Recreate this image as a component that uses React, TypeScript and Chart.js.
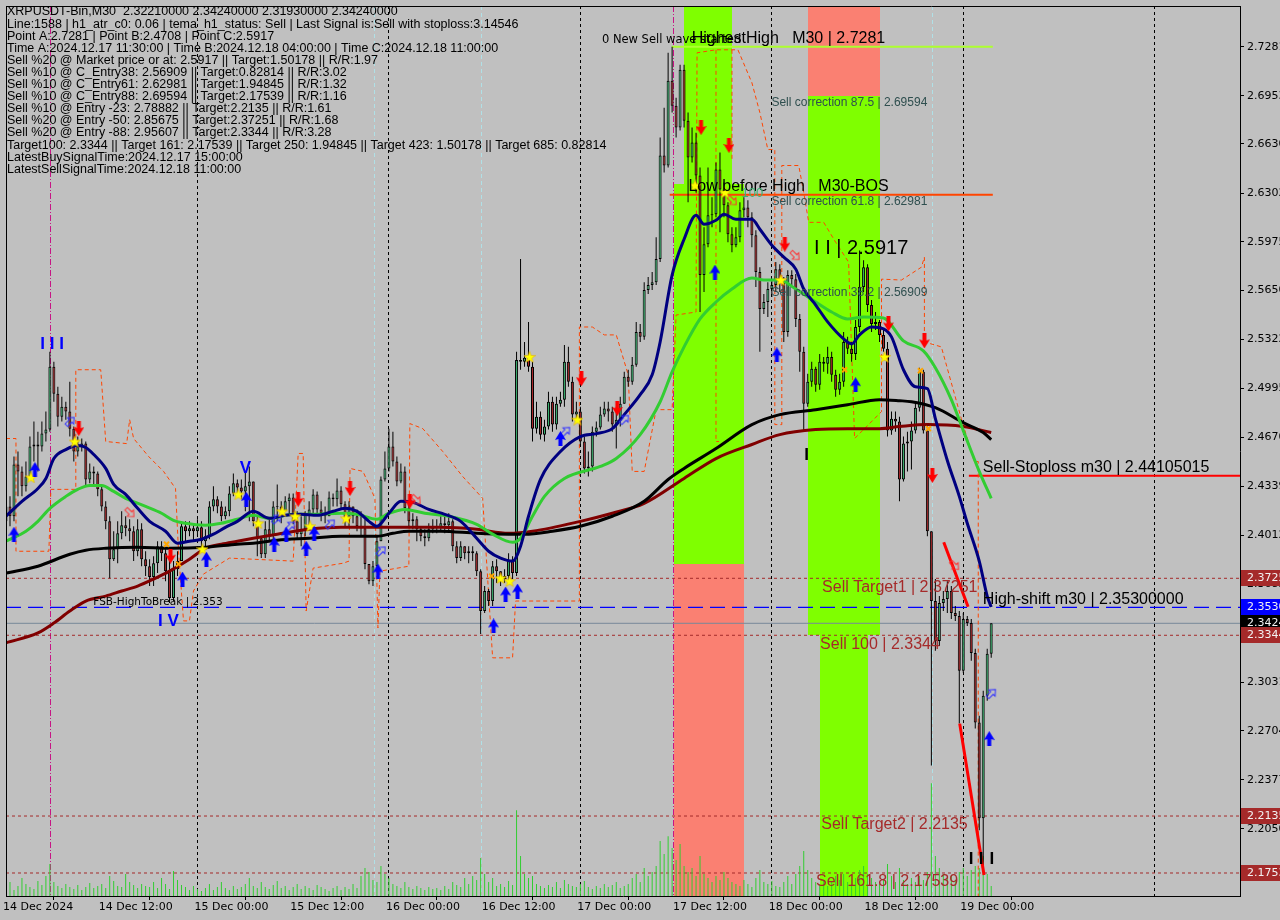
import React, { useEffect, useRef } from 'react';
import { Chart, registerables } from 'chart.js';

Chart.register(...registerables);

const ARIAL = "'Liberation Sans', Arial, sans-serif";
const DEJAVU = "'DejaVu Sans', sans-serif";

// ---------- axes ----------
const timeTickIdx = [0, 24, 48, 72, 96, 120, 144, 168, 192, 216, 240];
const timeTickLabels = ['14 Dec 2024', '14 Dec 12:00', '15 Dec 00:00', '15 Dec 12:00', '16 Dec 00:00', '16 Dec 12:00', '17 Dec 00:00', '17 Dec 12:00', '18 Dec 00:00', '18 Dec 12:00', '19 Dec 00:00'];
const priceTicks = [2.7281, 2.6953, 2.6630, 2.6302, 2.5975, 2.5650, 2.5322, 2.4995, 2.4670, 2.4339, 2.4012, 2.3685, 2.3358, 2.3031, 2.2704, 2.2377, 2.2050, 2.1723];
const priceMin = 2.1600;
const priceMax = 2.7553;
const slotMax = 309.375;

// ---------- candles (M30) ----------
const firstOpen = 2.4106;
const close = [
  2.4206, 2.4140, 2.4486, 2.4440, 2.4340, 2.4406, 2.4606, 2.4620, 2.4606, 2.4693, 2.4720, 2.5140,
  2.4960, 2.4806, 2.4873, 2.4840, 2.4726, 2.4573, 2.4606, 2.4626, 2.4386, 2.4440, 2.4426, 2.4320,
  2.4206, 2.4106, 2.3853, 2.3920, 2.4026, 2.4080, 2.4060, 2.4040, 2.3906, 2.4053, 2.3853, 2.3806,
  2.3733, 2.3826, 2.3940, 2.3893, 2.3773, 2.3593, 2.3786, 2.3840, 2.4073, 2.4040, 2.4060, 2.4040,
  2.4066, 2.3973, 2.4006, 2.4206, 2.4253, 2.4206, 2.4140, 2.4173, 2.4293, 2.4360, 2.4333, 2.4306,
  2.4340, 2.4373, 2.4106, 2.3993, 2.3886, 2.4053, 2.4006, 2.4206, 2.4206, 2.4173, 2.4240, 2.4266,
  2.4106, 2.4020, 2.4053, 2.4153, 2.4186, 2.4286, 2.4186, 2.4160, 2.4140, 2.4266, 2.4253, 2.4313,
  2.4220, 2.4120, 2.4206, 2.4140, 2.4073, 2.4060, 2.3820, 2.3706, 2.3806, 2.3973, 2.4386, 2.4460,
  2.4606, 2.4506, 2.4373, 2.4440, 2.4193, 2.4106, 2.4120, 2.4053, 2.4006, 2.3993, 2.4053, 2.4073,
  2.4066, 2.4093, 2.4080, 2.4106, 2.3940, 2.3860, 2.3940, 2.3893, 2.3906, 2.3893, 2.3773, 2.3506,
  2.3640, 2.3573, 2.3806, 2.3773, 2.3720, 2.3740, 2.3840, 2.3760, 2.5186, 2.5173, 2.5200, 2.5140,
  2.4726, 2.4806, 2.4686, 2.4740, 2.4906, 2.4753, 2.4893, 2.4920, 2.5173, 2.5040, 2.4820, 2.4840,
  2.4640, 2.4460, 2.4473, 2.4706, 2.4733, 2.4820, 2.4860, 2.4840, 2.4753, 2.4786, 2.4893, 2.5073,
  2.5040, 2.5153, 2.5373, 2.5340, 2.5653, 2.5686, 2.5706, 2.5860, 2.6553, 2.6486, 2.7053, 2.6886,
  2.6740, 2.7126, 2.6786, 2.6540, 2.6640, 2.6420, 2.5753, 2.5960, 2.6153, 2.6160, 2.6460, 2.6326,
  2.6220, 2.6026, 2.5953, 2.6006, 2.6186, 2.6206, 2.6140, 2.6020, 2.5773, 2.5526, 2.5573, 2.5660,
  2.5686, 2.5793, 2.5706, 2.5373, 2.5753, 2.5726, 2.5460, 2.5240, 2.4893, 2.5040, 2.5126, 2.5020,
  2.5173, 2.5160, 2.5206, 2.5086, 2.4986, 2.5040, 2.5306, 2.5260, 2.5226, 2.5406, 2.5673, 2.5806,
  2.5553, 2.5426, 2.5440, 2.5353, 2.5260, 2.4713, 2.4793, 2.4773, 2.4386, 2.4626, 2.4640, 2.4713,
  2.4866, 2.5106, 2.4713, 2.4040, 2.3573, 2.3306, 2.3560, 2.3586, 2.3640, 2.3493, 2.3473, 2.3106,
  2.3453, 2.3426, 2.3226, 2.2760, 2.2120, 2.2940, 2.3220, 2.3424,
];
const high = [
  2.4306, 2.4273, 2.4540, 2.4573, 2.4473, 2.4506, 2.4673, 2.4773, 2.4706, 2.4773, 2.4840, 2.5240,
  2.5173, 2.5006, 2.4940, 2.4906, 2.5040, 2.4740, 2.4673, 2.4660, 2.4640, 2.4493, 2.4473, 2.4440,
  2.4340, 2.4240, 2.4140, 2.4040, 2.4106, 2.4173, 2.4140, 2.4120, 2.4073, 2.4120, 2.4093, 2.3906,
  2.3853, 2.3873, 2.3973, 2.3973, 2.3920, 2.3840, 2.3840, 2.3906, 2.4106, 2.4106, 2.4106, 2.4093,
  2.4120, 2.4106, 2.4053, 2.4240, 2.4340, 2.4273, 2.4240, 2.4206, 2.4340, 2.4426, 2.4386, 2.4386,
  2.4440, 2.4473, 2.4240, 2.4140, 2.4006, 2.4106, 2.4120, 2.4240, 2.4353, 2.4240, 2.4273, 2.4293,
  2.4293, 2.4173, 2.4140, 2.4173, 2.4240, 2.4320, 2.4306, 2.4240, 2.4206, 2.4306, 2.4293, 2.4393,
  2.4340, 2.4240, 2.4240, 2.4206, 2.4186, 2.4173, 2.4120, 2.3806, 2.3840, 2.4006, 2.4406, 2.4573,
  2.4726, 2.4706, 2.4540, 2.4493, 2.4473, 2.4240, 2.4160, 2.4140, 2.4073, 2.4053, 2.4093, 2.4120,
  2.4120, 2.4140, 2.4140, 2.4160, 2.4120, 2.3973, 2.3973, 2.3940, 2.3940, 2.3940, 2.3906, 2.3786,
  2.3673, 2.3653, 2.3840, 2.3853, 2.3773, 2.3786, 2.3893, 2.3873, 2.5240, 2.5860, 2.5306, 2.5440,
  2.5173, 2.4906, 2.4840, 2.4786, 2.4973, 2.4940, 2.4940, 2.4973, 2.5286, 2.5273, 2.5073, 2.4906,
  2.4873, 2.4673, 2.4573, 2.4740, 2.4773, 2.4873, 2.4906, 2.4906, 2.4873, 2.4873, 2.4940, 2.5106,
  2.5120, 2.5206, 2.5440, 2.5426, 2.5706, 2.5740, 2.5773, 2.6006, 2.6673, 2.6873, 2.7240, 2.7281,
  2.6940, 2.7160, 2.7160, 2.6840, 2.6740, 2.6706, 2.6473, 2.6073, 2.6473, 2.6273, 2.6506, 2.6573,
  2.6373, 2.6240, 2.6073, 2.6073, 2.6240, 2.6273, 2.6253, 2.6173, 2.6053, 2.5806, 2.5626, 2.5706,
  2.5720, 2.5840, 2.5826, 2.5740, 2.5786, 2.5786, 2.5760, 2.5493, 2.5273, 2.5093, 2.5173, 2.5140,
  2.5226, 2.5206, 2.5273, 2.5240, 2.5120, 2.5093, 2.5373, 2.5340, 2.5306, 2.5453, 2.5917, 2.5853,
  2.5826, 2.5586, 2.5506, 2.5453, 2.5386, 2.5306, 2.4840, 2.4840, 2.4806, 2.4673, 2.4706, 2.4773,
  2.4906, 2.5133, 2.5120, 2.4740, 2.3973, 2.3720, 2.3606, 2.3640, 2.3706, 2.3673, 2.3540, 2.3506,
  2.3493, 2.3473, 2.3453, 2.3253, 2.2806, 2.2973, 2.3253, 2.3424,
];
const low = [
  2.3973, 2.4073, 2.4106, 2.4273, 2.4273, 2.4306, 2.4406, 2.4506, 2.4440, 2.4573, 2.4640, 2.4706,
  2.4906, 2.4740, 2.4773, 2.4786, 2.4673, 2.4506, 2.4540, 2.4573, 2.4340, 2.4360, 2.4340, 2.4273,
  2.4173, 2.4053, 2.3726, 2.3840, 2.3826, 2.3986, 2.4006, 2.3973, 2.3840, 2.3873, 2.3806, 2.3740,
  2.3673, 2.3673, 2.3760, 2.3840, 2.3706, 2.3560, 2.3573, 2.3740, 2.3840, 2.3973, 2.4006, 2.3973,
  2.4006, 2.3920, 2.3920, 2.3986, 2.4173, 2.4160, 2.4106, 2.4120, 2.4140, 2.4273, 2.4293, 2.4253,
  2.4173, 2.4106, 2.4073, 2.3873, 2.3860, 2.3860, 2.3973, 2.3986, 2.4106, 2.4093, 2.4186, 2.4160,
  2.4086, 2.3993, 2.3940, 2.4006, 2.4073, 2.4160, 2.4160, 2.4106, 2.4093, 2.4173, 2.4206, 2.4206,
  2.4186, 2.4073, 2.4073, 2.4093, 2.4040, 2.4006, 2.3786, 2.3686, 2.3673, 2.3786, 2.3973, 2.4373,
  2.4440, 2.4473, 2.4340, 2.4360, 2.4160, 2.4073, 2.4053, 2.3973, 2.3973, 2.3940, 2.3973, 2.4026,
  2.4026, 2.4040, 2.4026, 2.4040, 2.3906, 2.3826, 2.3840, 2.3853, 2.3826, 2.3840, 2.3740, 2.3353,
  2.3493, 2.3540, 2.3540, 2.3693, 2.3673, 2.3693, 2.3706, 2.3720, 2.3740, 2.5120, 2.5140, 2.5106,
  2.4640, 2.4693, 2.4653, 2.4640, 2.4720, 2.4706, 2.4720, 2.4873, 2.4873, 2.5006, 2.4773, 2.4786,
  2.4606, 2.4426, 2.4406, 2.4440, 2.4673, 2.4720, 2.4806, 2.4773, 2.4706, 2.4593, 2.4740, 2.4893,
  2.5006, 2.5020, 2.5140, 2.5306, 2.5320, 2.5626, 2.5653, 2.5686, 2.5840, 2.6440, 2.6473, 2.6840,
  2.6673, 2.6720, 2.6740, 2.6240, 2.6506, 2.6306, 2.5506, 2.5640, 2.5940, 2.6073, 2.6140, 2.6040,
  2.6140, 2.5973, 2.5906, 2.5940, 2.5973, 2.6140, 2.6073, 2.5940, 2.5673, 2.5240, 2.5493, 2.5473,
  2.5606, 2.5640, 2.5640, 2.5306, 2.5340, 2.5686, 2.5406, 2.5106, 2.4708, 2.4873, 2.5006, 2.4973,
  2.4986, 2.5106, 2.5093, 2.5040, 2.4940, 2.4953, 2.5006, 2.5226, 2.5173, 2.5186, 2.5373, 2.5640,
  2.5506, 2.5373, 2.5386, 2.5306, 2.5240, 2.4673, 2.4686, 2.4706, 2.4240, 2.4373, 2.4440, 2.4453,
  2.4693, 2.4840, 2.4693, 2.4006, 2.2473, 2.3240, 2.3273, 2.3506, 2.3493, 2.3453, 2.3440, 2.2753,
  2.3093, 2.3406, 2.3173, 2.2720, 2.2040, 2.1793, 2.2906, 2.3193,
];
const volume = [
  8, 14, 6, 10, 18, 12, 9, 7, 15, 11, 20, 32,
  14, 10, 8, 12, 9, 7, 11, 6, 9, 13, 8, 10,
  12, 8, 20, 15, 10, 9, 22, 14, 11, 8, 12, 10,
  9, 14, 8, 18, 12, 7, 25, 16, 11, 9, 6, 10,
  7, 5, 8, 12, 6, 9, 14, 8, 6, 10, 7, 9,
  12, 18, 10, 8, 14, 9, 7, 11, 15, 8, 10, 6,
  9, 12, 7, 10, 8, 6, 11, 9, 7, 5, 8, 10,
  6, 9, 7, 12, 8, 20, 28, 24, 16, 14, 30, 22,
  18, 12, 10, 8, 14, 9, 7, 10, 8, 6, 9, 7,
  8, 6, 10, 7, 14, 11, 9, 18, 12, 20, 16, 38,
  22, 14, 18, 10, 12, 9, 15, 11, 86, 40, 22, 18,
  20, 12, 10, 8, 11, 9, 14, 8, 16, 12, 10, 9,
  12, 15, 9, 7, 10, 8, 12, 9, 11, 14, 8, 10,
  12, 18, 22, 14, 28, 20, 24, 30, 55, 42, 60, 48,
  36, 52, 30, 24, 28, 20, 40, 22, 18, 14, 20, 16,
  24, 18, 14, 12, 10, 16, 12, 9, 18, 26, 14, 12,
  15, 10, 9, 14, 20, 12, 22, 30, 45, 26, 18, 14,
  12, 16, 10, 14, 20, 16, 22, 14, 12, 18, 26, 30,
  22, 18, 14, 12, 16, 32, 20, 14, 28, 16, 12, 18,
  14, 20, 16, 24, 113, 40, 28, 22, 18, 20, 16, 24,
  28, 20, 26, 30, 28, 40, 22, 10,
];

// ---------- indicator lines: [bar index, price] ----------
const navyMA = [[0,2.4140],[4,2.4240],[8,2.4326],[10,2.4393],[12,2.4526],[15,2.4586],[18,2.4613],[20,2.4600],[22,2.4553],[25,2.4460],[27,2.4353],[30,2.4286],[33,2.4193],[36,2.4106],[40,2.4040],[43,2.3960],[46,2.3973],[49,2.3986],[52,2.4020],[55,2.4066],[58,2.4106],[62,2.4173],[66,2.4126],[70,2.4146],[74,2.4153],[78,2.4146],[82,2.4173],[85,2.4193],[88,2.4173],[91,2.4106],[93,2.4073],[96,2.4160],[99,2.4240],[102,2.4233],[106,2.4186],[110,2.4153],[114,2.4106],[118,2.3993],[121,2.3906],[124,2.3860],[127,2.3840],[129,2.3940],[131,2.4140],[134,2.4386],[139,2.4573],[144,2.4673],[148,2.4693],[152,2.4726],[155,2.4820],[159,2.4953],[162,2.5086],[164,2.5306],[167,2.5753],[170,2.5993],[173,2.6153],[175,2.6093],[178,2.6120],[180,2.6160],[183,2.6126],[187,2.6126],[189,2.6060],[192,2.5953],[195,2.5873],[198,2.5793],[200,2.5660],[203,2.5553],[206,2.5440],[210,2.5326],[212,2.5293],[214,2.5353],[217,2.5406],[220,2.5393],[222,2.5340],[225,2.5120],[228,2.5006],[231,2.4993],[233,2.4793],[236,2.4513],[239,2.4273],[241,2.4093],[244,2.3840],[246,2.3606],[247,2.3533]];
const greenMA = [[0,2.3973],[5,2.4040],[8,2.4106],[11,2.4193],[15,2.4273],[18,2.4320],[21,2.4346],[24,2.4346],[27,2.4306],[30,2.4260],[35,2.4206],[39,2.4160],[42,2.4113],[45,2.4093],[50,2.4080],[54,2.4093],[58,2.4120],[62,2.4146],[66,2.4126],[72,2.4153],[77,2.4153],[84,2.4160],[88,2.4153],[93,2.4120],[96,2.4160],[100,2.4186],[105,2.4160],[111,2.4140],[118,2.4086],[122,2.4020],[127,2.3966],[129,2.3993],[132,2.4140],[135,2.4273],[140,2.4393],[149,2.4473],[153,2.4526],[159,2.4686],[164,2.4906],[167,2.5106],[170,2.5273],[174,2.5460],[178,2.5573],[182,2.5660],[187,2.5733],[190,2.5720],[194,2.5720],[198,2.5660],[203,2.5573],[207,2.5506],[211,2.5460],[215,2.5473],[220,2.5466],[225,2.5313],[230,2.5246],[233,2.5133],[237,2.4920],[240,2.4713],[244,2.4440],[247,2.4260]];
const blackMA = [[0,2.3760],[8,2.3806],[16,2.3886],[20,2.3913],[25,2.3926],[33,2.3933],[41,2.3926],[50,2.3933],[58,2.3953],[62,2.3960],[68,2.3980],[76,2.3993],[84,2.4006],[93,2.4006],[97,2.4026],[101,2.4040],[109,2.4040],[118,2.4026],[126,2.4020],[130,2.4020],[137,2.4040],[144,2.4073],[152,2.4140],[160,2.4240],[166,2.4386],[170,2.4460],[178,2.4593],[187,2.4753],[194,2.4820],[203,2.4853],[211,2.4886],[219,2.4920],[224,2.4913],[227,2.4906],[233,2.4866],[240,2.4766],[245,2.4700],[247,2.4653]];
const maroonMA = [[0,2.3293],[8,2.3360],[12,2.3426],[16,2.3506],[20,2.3573],[25,2.3606],[29,2.3640],[33,2.3673],[37,2.3720],[41,2.3773],[46,2.3853],[50,2.3926],[54,2.3953],[58,2.3973],[62,2.3993],[68,2.4020],[76,2.4053],[84,2.4066],[101,2.4066],[109,2.4066],[118,2.4053],[126,2.4026],[132,2.4040],[144,2.4106],[152,2.4160],[160,2.4226],[170,2.4393],[178,2.4526],[187,2.4620],[194,2.4686],[203,2.4720],[211,2.4726],[219,2.4726],[224,2.4740],[231,2.4753],[240,2.4740],[247,2.4700]];
const trailStop = [[0,2.4660],[2.5,2.4660],[2.5,2.3906],[10.75,2.3906],[11.25,2.4320],[17.5,2.4320],[17.5,2.5120],[23.75,2.5120],[25,2.4640],[30.25,2.4626],[31,2.4786],[32,2.4660],[35.75,2.4540],[39.5,2.4440],[42.5,2.4326],[43.25,2.3906],[44.5,2.3440],[46,2.3440],[47,2.3640],[49.5,2.3753],[56,2.3860],[72,2.3840],[73.25,2.4560],[74.5,2.4560],[75.25,2.3506],[77,2.3793],[84.5,2.3826],[86,2.3840],[86.25,2.4460],[89.5,2.4440],[92.5,2.4260],[93.25,2.3393],[93.75,2.3773],[101,2.3806],[101.25,2.4760],[104.5,2.4726],[109.5,2.4573],[114.5,2.4406],[119.5,2.4260],[122,2.3193],[127,2.3193],[127.75,2.3573],[143.75,2.3573],[143.75,2.5406],[147,2.5406],[150,2.5353],[153,2.5353],[156,2.5086],[157,2.4440],[160,2.4440],[163,2.4853],[167,2.4853],[168,2.5486],[173,2.5506],[173.25,2.7240],[178,2.7260],[183.5,2.7260],[187,2.7040],[189,2.6840],[191,2.6593],[192.75,2.6593],[192.75,2.4753],[194.5,2.4753],[194.5,2.6486],[198.75,2.6486],[200,2.6306],[201.25,2.6106],[205,2.6106],[208,2.5973],[211.25,2.5840],[212.75,2.4660],[219.5,2.4840],[219.5,2.5726],[224.5,2.5720],[229.5,2.5806],[230.25,2.5873],[230.25,2.5306],[234.5,2.5273],[239.5,2.4793],[242.75,2.4506],[243.75,2.4506],[243.75,2.1540]];
const trailStop2 = [[178,2.7260],[178,2.4640],[178.75,2.4640],[180,null],[182,2.7260],[182,2.6520]];

// ---------- signals: [bar index, price] ----------
const sellArrows = [[18.25,2.4726],[41.25,2.3873],[73.25,2.4253],[86.25,2.4326],[101.25,2.4240],[144.25,2.5060],[153.25,2.4860],[174.25,2.6740],[181.25,2.6620],[195.25,2.5960],[221.25,2.5426],[230.25,2.5313],[232.25,2.4413]];
const buyArrows = [[2,2.4020],[7.25,2.4453],[44.25,2.3720],[50.25,2.3853],[60.25,2.4253],[67.25,2.3953],[70.25,2.4020],[75.25,2.3926],[77.25,2.4026],[93.25,2.3773],[122.25,2.3406],[125.25,2.3620],[128.25,2.3640],[139,2.4660],[177.75,2.5773],[193.25,2.5220],[213,2.5020],[246.5,2.2653]];
const starSignals = [[6.25,2.4400],[17.25,2.4640],[49.25,2.3920],[58.25,2.4286],[63.25,2.4093],[69.25,2.4173],[72.5,2.4140],[76.25,2.4073],[85.25,2.4126],[124,2.3726],[126.25,2.3706],[131.25,2.5206],[143.25,2.4786],[172.75,2.6353],[180.25,2.6306],[194.25,2.5720],[220.25,2.5206]];
const crossSignals = [[210.25,2.5120],[229.25,2.5113],[231.25,2.4726],[121.75,2.3740],[43.25,2.3820],[40.25,2.3953]];
const buyHollow = [[16,2.4773],[67.75,2.4120],[71.25,2.4073],[81.25,2.4086],[94,2.3906],[140.25,2.4706],[155,2.4786],[247,2.2953]];
const sellHollow = [[31,2.4166],[102.75,2.4253],[182,2.6253],[197.75,2.5886],[237.75,2.3813]];

// ---------- zones / levels ----------
const zoneRanges = [
  [170.1, 182.1, 2.7600, 2.6360],
  [167.4, 185.1, 2.6360, 2.3820],
  [167.4, 185.1, 2.3820, 2.1500],
  [201.1, 219.1, 2.7600, 2.6953],
  [201.1, 219.1, 2.6953, 2.3347],
  [204.1, 216.1, 2.3347, 2.1500],
];
const zoneKinds = ['buy', 'buy', 'sell', 'sell', 'buy', 'buy'];
const daySeparatorIdx = [48, 96, 144, 192, 240, 288];
const cyanLineIdx = [92.4, 119.1, 232.4];
const magentaLineIdx = [11.1, 167.4];

const highestHigh = 2.7281;
const lowBeforeHigh = 2.6290;
const sellStoploss = 2.44105015;
const highShift = 2.353;
const lastPrice = 2.3424;
const sellTargets = [2.37251, 2.3344, 2.2135, 2.17539];
const legA = [[235.1, 2.3966], [241.2, 2.3535]];
const legB = [[239.1, 2.2753], [245.2, 2.1740]];

const chartLabels = [
  ['0 New Sell wave started', 149.4, 2.7366, 'small'],
  ['HighestHigh   M30 | 2.7281', 171.9, 2.7281, 'bigAbove'],
  ['Low before High   M30-BOS', 171.1, 2.6290, 'bigAbove'],
  ['Sell correction 87.5 | 2.69594', 191.9, 2.69594, 'corr'],
  ['Sell correction 61.8 | 2.62981', 191.9, 2.62981, 'corr'],
  ['Sell correction 38.2 | 2.56909', 191.9, 2.56909, 'corr'],
  ['Sell Target1 | 2.37251', 204.6, 2.37251, 'target'],
  ['Sell 100 | 2.3344', 204.1, 2.3344, 'target'],
  ['Sell Target2 | 2.2135', 204.4, 2.2135, 'target'],
  ['Sell 161.8 | 2.17539', 203.1, 2.17539, 'target'],
  ['High-shift m30 | 2.35300000', 244.9, 2.353, 'bigAbove'],
  ['Sell-Stoploss m30 | 2.44105015', 244.9, 2.44105015, 'bigAbove'],
  ['FSB-HighToBreak | 2.353', 21.9, 2.353, 'smallAbove'],
  ['I I | 2.5917', 202.6, 2.5866, 'wave'],
  ['100', 184.4, 2.6340, 'green'],
  ['I I I', 8.6, 2.5346, 'blueWave'],
  ['I V', 38.1, 2.3493, 'blueWave'],
  ['V', 58.6, 2.4520, 'blueWave'],
  ['I', 200.1, 2.4606, 'blackWave'],
  ['I', 241.4, 2.1900, 'blackWave'],
  ['I', 243.9, 2.1900, 'blackWave'],
  ['I', 246.6, 2.1900, 'blackWave'],
];

const axisMarks = [2.37251, 2.353, 2.3424, 2.3344, 2.2135, 2.17539];
const axisMarkKinds = ['target', 'shift', 'last', 'target', 'target', 'target'];

const infoLines = [
  'XRPUSDT-Bin,M30  2.32210000 2.34240000 2.31930000 2.34240000',
  'Line:1588 | h1_atr_c0: 0.06 | tema_h1_status: Sell | Last Signal is:Sell with stoploss:3.14546',
  'Point A:2.7281 | Point B:2.4708 | Point C:2.5917',
  'Time A:2024.12.17 11:30:00 | Time B:2024.12.18 04:00:00 | Time C:2024.12.18 11:00:00',
  'Sell %20 @ Market price or at: 2.5917 || Target:1.50178 || R/R:1.97',
  'Sell %10 @ C_Entry38: 2.56909 || Target:0.82814 || R/R:3.02',
  'Sell %10 @ C_Entry61: 2.62981 || Target:1.94845 || R/R:1.32',
  'Sell %10 @ C_Entry88: 2.69594 || Target:2.17539 || R/R:1.16',
  'Sell %10 @ Entry -23: 2.78882 || Target:2.2135 || R/R:1.61',
  'Sell %20 @ Entry -50: 2.85675 || Target:2.37251 || R/R:1.68',
  'Sell %20 @ Entry -88: 2.95607 || Target:2.3344 || R/R:3.28',
  'Target100: 2.3344 || Target 161: 2.17539 || Target 250: 1.94845 || Target 423: 1.50178 || Target 685: 0.82814',
  'LatestBuySignalTime:2024.12.17 15:00:00',
  'LatestSellSignalTime:2024.12.18 11:00:00',
];

// ---------- styles ----------
const BULL = '#3CB371';
const BEAR = '#A8282A';
const ZONE_COLORS: any = { buy: '#7FFF00', sell: '#FA8072' };
const MARK_COLORS: any = { target: '#A52A2A', shift: '#0000FF', last: '#000000' };
const LABEL_STYLES: any = {
  small: { font: `11.5px ${DEJAVU}`, color: '#000', base: 'top', dy: 0 },
  bigAbove: { font: `16px ${ARIAL}`, color: '#000', base: 'bottom', dy: 0 },
  corr: { font: `12px ${ARIAL}`, color: '#2F4F4F', base: 'top', dy: 2 },
  target: { font: `16px ${ARIAL}`, color: '#A52A2A', base: 'top', dy: 1 },
  smallAbove: { font: `10.5px ${DEJAVU}`, color: '#000', base: 'bottom', dy: 0 },
  wave: { font: `20px ${ARIAL}`, color: '#000', base: 'bottom', dy: 0 },
  green: { font: `13px ${ARIAL}`, color: '#3CB371', base: 'top', dy: 0 },
  blueWave: { font: `bold 17px ${ARIAL}`, color: '#0000FF', base: 'top', dy: 0 },
  blackWave: { font: `bold 17px ${ARIAL}`, color: '#000', base: 'top', dy: 0 },
};

function arrowImg(color: string, down: boolean) {
  const c = document.createElement('canvas');
  c.width = 11; c.height = 15;
  const g = c.getContext('2d') as CanvasRenderingContext2D;
  g.fillStyle = color;
  g.beginPath();
  if (down) {
    g.moveTo(3.5, 0); g.lineTo(7.5, 0); g.lineTo(7.5, 7); g.lineTo(11, 6); g.lineTo(5.5, 15); g.lineTo(0, 6); g.lineTo(3.5, 7);
  } else {
    g.moveTo(5.5, 0); g.lineTo(11, 9); g.lineTo(7.5, 8); g.lineTo(7.5, 15); g.lineTo(3.5, 15); g.lineTo(3.5, 8); g.lineTo(0, 9);
  }
  g.closePath();
  g.fill();
  return c;
}
function hollowImg(color: string, angle: number) {
  const c = document.createElement('canvas');
  c.width = 14; c.height = 14;
  const g = c.getContext('2d') as CanvasRenderingContext2D;
  g.translate(7, 7);
  g.rotate((angle * Math.PI) / 180);
  g.strokeStyle = color;
  g.lineWidth = 1;
  g.beginPath();
  g.moveTo(0, -6); g.lineTo(4.5, -1); g.lineTo(1.8, -1); g.lineTo(1.8, 5); g.lineTo(-1.8, 5); g.lineTo(-1.8, -1); g.lineTo(-4.5, -1);
  g.closePath();
  g.stroke();
  return c;
}
function starImg() {
  const c = document.createElement('canvas');
  c.width = 12; c.height = 12;
  const g = c.getContext('2d') as CanvasRenderingContext2D;
  g.beginPath();
  for (let k = 0; k < 10; k++) {
    const r = k % 2 === 0 ? 6 : 2.5;
    const a = -Math.PI / 2 + (k * Math.PI) / 5;
    const px = 6 + r * Math.cos(a);
    const py = 6.5 + r * Math.sin(a);
    if (k === 0) g.moveTo(px, py); else g.lineTo(px, py);
  }
  g.closePath();
  g.fillStyle = '#FFFF00';
  g.fill();
  g.strokeStyle = '#E0B000';
  g.lineWidth = 0.6;
  g.stroke();
  return c;
}

const xy = (arr: any[]) => arr.map((p: any) => ({ x: p[0], y: p[1] }));

export default function App() {
  const ref = useRef<HTMLCanvasElement>(null);

  useEffect(() => {
    document.body.style.margin = '0';
    document.body.style.background = '#C0C0C0';
    const canvas = ref.current as HTMLCanvasElement;

    const open = close.map((c, i) => (i === 0 ? firstOpen : close[i - 1]));
    const wickData = close.map((c, i) => ({
      x: i,
      y: [Math.min(low[i], open[i], c), Math.max(high[i], open[i], c)],
    }));
    const bodyData = close.map((c, i) => {
      let a = open[i];
      let b = c;
      if (Math.abs(a - b) < 0.0006) {
        const m = (a + b) / 2;
        a = m - 0.0003;
        b = m + 0.0003;
      }
      return { x: i, y: [a, b] };
    });
    const bodyColors = close.map((c, i) => (c >= open[i] ? BULL : BEAR));
    const volData = volume.map((v, i) => ({ x: i, y: v }));

    const hline = (p: number, from: number, to: number, color: string, width: number, dash: number[], order: number) => ({
      type: 'line',
      data: [{ x: from, y: p }, { x: to, y: p }],
      borderColor: color,
      borderWidth: width,
      borderDash: dash,
      pointRadius: 0,
      order,
      yAxisID: 'y',
    });
    const maLine = (pts: any[], color: string, order: number) => ({
      type: 'line',
      data: xy(pts),
      borderColor: color,
      borderWidth: 3,
      pointRadius: 0,
      cubicInterpolationMode: 'monotone',
      order,
      yAxisID: 'y',
    });
    const markers = (pts: any[], style: any, order: number, extra: any = {}) => ({
      type: 'line',
      data: xy(pts),
      showLine: false,
      pointStyle: style,
      pointRadius: 5,
      order,
      yAxisID: 'y',
      ...extra,
    });

    const datasets: any[] = [
      ...sellTargets.map((p) => hline(p, 0, slotMax, '#A52A2A', 1, [3, 3], 40)),
      hline(highShift, 0, slotMax, '#0000FF', 1.2, [15, 7], 40),
      hline(lastPrice, 0, slotMax, '#778899', 1, [], 40),
      hline(highestHigh, 166.9, 247.4, '#ADFF2F', 2, [], 40),
      hline(lowBeforeHigh, 166.4, 247.4, '#FF4500', 2, [], 40),
      hline(sellStoploss, 241.4, slotMax, '#FF0000', 2, [], 40),
      {
        type: 'bar', data: volData, yAxisID: 'yv', backgroundColor: '#32CD32', barThickness: 1,
        grouped: false, inflateAmount: 0, borderWidth: 0, order: 35,
      },
      { type: 'line', data: xy(trailStop), borderColor: '#FF4500', borderWidth: 1, borderDash: [4, 3], pointRadius: 0, order: 30, yAxisID: 'y' },
      { type: 'line', data: xy(trailStop2), borderColor: '#FF4500', borderWidth: 1, borderDash: [4, 3], pointRadius: 0, order: 30, yAxisID: 'y', spanGaps: false },
      {
        type: 'bar', data: wickData, yAxisID: 'y', backgroundColor: '#000', barThickness: 1,
        grouped: false, inflateAmount: 0, borderWidth: 0, order: 20,
      },
      {
        type: 'bar', data: bodyData, yAxisID: 'y', backgroundColor: bodyColors, borderColor: '#000',
        borderWidth: 1, borderSkipped: false, barThickness: 3, grouped: false, inflateAmount: 0, order: 19,
      },
      maLine(maroonMA, '#800000', 12),
      maLine(blackMA, '#000000', 11),
      maLine(greenMA, '#32CD32', 10),
      maLine(navyMA, '#000080', 9),
      { type: 'line', data: xy(legA), borderColor: '#FF0000', borderWidth: 3, pointRadius: 0, order: 8, yAxisID: 'y' },
      { type: 'line', data: xy(legB), borderColor: '#FF0000', borderWidth: 3, pointRadius: 0, order: 8, yAxisID: 'y' },
      markers(sellArrows, arrowImg('#FF0000', true), 2),
      markers(buyArrows, arrowImg('#0000FF', false), 2),
      markers(starSignals, starImg(), 3),
      markers(crossSignals, 'crossRot', 3, { borderColor: '#FFA500', borderWidth: 2, pointRadius: 3.5 }),
      markers(buyHollow, hollowImg('#3030FF', 45), 3),
      markers(sellHollow, hollowImg('#FF3030', 135), 3),
    ];

    const overlay = {
      id: 'overlay',
      beforeDatasetsDraw(chart: any) {
        const { ctx, chartArea: a, scales } = chart;
        const xs = scales.x;
        const ys = scales.y;
        ctx.save();
        ctx.beginPath();
        ctx.rect(a.left, a.top, a.right - a.left, a.bottom - a.top);
        ctx.clip();
        zoneRanges.forEach((z, k) => {
          const x0 = Math.round(xs.getPixelForValue(z[0]));
          const x1 = Math.round(xs.getPixelForValue(z[1]));
          const y0 = Math.round(ys.getPixelForValue(z[2]));
          const y1 = Math.round(ys.getPixelForValue(z[3]));
          ctx.fillStyle = ZONE_COLORS[zoneKinds[k]];
          ctx.fillRect(x0, y0, x1 - x0, y1 - y0);
        });
        const vline = (i: number, color: string, dash: number[]) => {
          const px = Math.floor(xs.getPixelForValue(i)) + 0.5;
          ctx.strokeStyle = color;
          ctx.lineWidth = 1;
          ctx.setLineDash(dash);
          ctx.beginPath();
          ctx.moveTo(px, a.top);
          ctx.lineTo(px, a.bottom);
          ctx.stroke();
        };
        daySeparatorIdx.forEach((i) => vline(i, '#000', [3, 3]));
        cyanLineIdx.forEach((i) => vline(i, '#B0E0E6', [4, 3]));
        magentaLineIdx.forEach((i) => vline(i, '#C71585', [6, 2, 1, 2]));
        ctx.restore();
      },
      afterDatasetsDraw(chart: any) {
        const { ctx, scales } = chart;
        const xs = scales.x;
        const ys = scales.y;
        ctx.save();
        chartLabels.forEach((l: any) => {
          const st = LABEL_STYLES[l[3]];
          ctx.font = st.font;
          ctx.fillStyle = st.color;
          ctx.textAlign = 'left';
          ctx.textBaseline = st.base;
          ctx.fillText(l[0], xs.getPixelForValue(l[1]), ys.getPixelForValue(l[2]) + st.dy);
        });
        ctx.restore();
      },
      afterDraw(chart: any) {
        const { ctx, chartArea: a, scales } = chart;
        const ys = scales.y;
        ctx.save();
        // frame
        ctx.strokeStyle = '#000';
        ctx.lineWidth = 1;
        ctx.setLineDash([]);
        ctx.beginPath();
        ctx.moveTo(a.left, a.top + 0.5);
        ctx.lineTo(a.right, a.top + 0.5);
        ctx.moveTo(Math.floor(a.left) + 0.5, a.top);
        ctx.lineTo(Math.floor(a.left) + 0.5, a.bottom);
        ctx.stroke();
        // price marks on the axis
        ctx.font = `11px ${DEJAVU}`;
        ctx.textBaseline = 'middle';
        ctx.textAlign = 'left';
        axisMarks.forEach((p, k) => {
          const yc = Math.round(ys.getPixelForValue(p));
          ctx.fillStyle = MARK_COLORS[axisMarkKinds[k]];
          ctx.fillRect(a.right + 1, yc - 8, 40, 16);
          ctx.fillStyle = '#F2F2F2';
          ctx.fillText(p.toFixed(5), a.right + 7, yc + 0.5);
        });
        // info comment block
        ctx.font = `12.5px ${ARIAL}`;
        ctx.fillStyle = '#000';
        ctx.textBaseline = 'middle';
        infoLines.forEach((t, k) => {
          ctx.fillText(t, 7, 12 + k * 12.1);
        });
        ctx.restore();
      },
    };

    const chart = new Chart(canvas, {
      type: 'bar',
      data: { datasets },
      options: {
        animation: false,
        responsive: false,
        maintainAspectRatio: false,
        devicePixelRatio: 1,
        events: [],
        layout: { padding: { left: 2.5, top: 3, right: 0, bottom: 0 } },
        plugins: { legend: { display: false }, tooltip: { enabled: false }, title: { display: false } },
        scales: {
          x: {
            type: 'linear',
            min: 0,
            max: slotMax,
            offset: false,
            afterBuildTicks: (ax: any) => { ax.ticks = timeTickIdx.map((v) => ({ value: v })); },
            afterFit: (ax: any) => { ax.height = 24; ax.paddingLeft = 0; ax.paddingRight = 0; },
            ticks: {
              autoSkip: false, maxRotation: 0, minRotation: 0, align: 'start', padding: 1, labelOffset: -3,
              color: '#000', font: { family: "'DejaVu Sans', sans-serif", size: 11 },
              callback: (_v: any, idx: number) => timeTickLabels[idx],
            },
            grid: { drawOnChartArea: false, drawTicks: true, tickLength: 4, color: '#000' },
            border: { display: true, color: '#000' },
          },
          y: {
            type: 'linear',
            position: 'right',
            min: priceMin,
            max: priceMax,
            afterBuildTicks: (ax: any) => { ax.ticks = priceTicks.map((v) => ({ value: v })); },
            afterFit: (ax: any) => { ax.width = 40; ax.paddingTop = 0; ax.paddingBottom = 0; },
            ticks: {
              autoSkip: false, padding: 3, color: '#000', font: { family: "'DejaVu Sans', sans-serif", size: 11 },
              callback: (v: any) => Number(v).toFixed(5),
            },
            grid: { drawOnChartArea: false, drawTicks: true, tickLength: 4, color: '#000' },
            border: { display: true, color: '#000' },
          },
          yv: { type: 'linear', display: false, min: 0, max: 892 },
        },
      } as any,
      plugins: [overlay],
    } as any);

    return () => chart.destroy();
  }, []);

  return (
    <canvas
      ref={ref}
      width={1280}
      height={920}
      style={{ display: 'block', width: 1280, height: 920, background: '#C0C0C0' }}
    />
  );
}
